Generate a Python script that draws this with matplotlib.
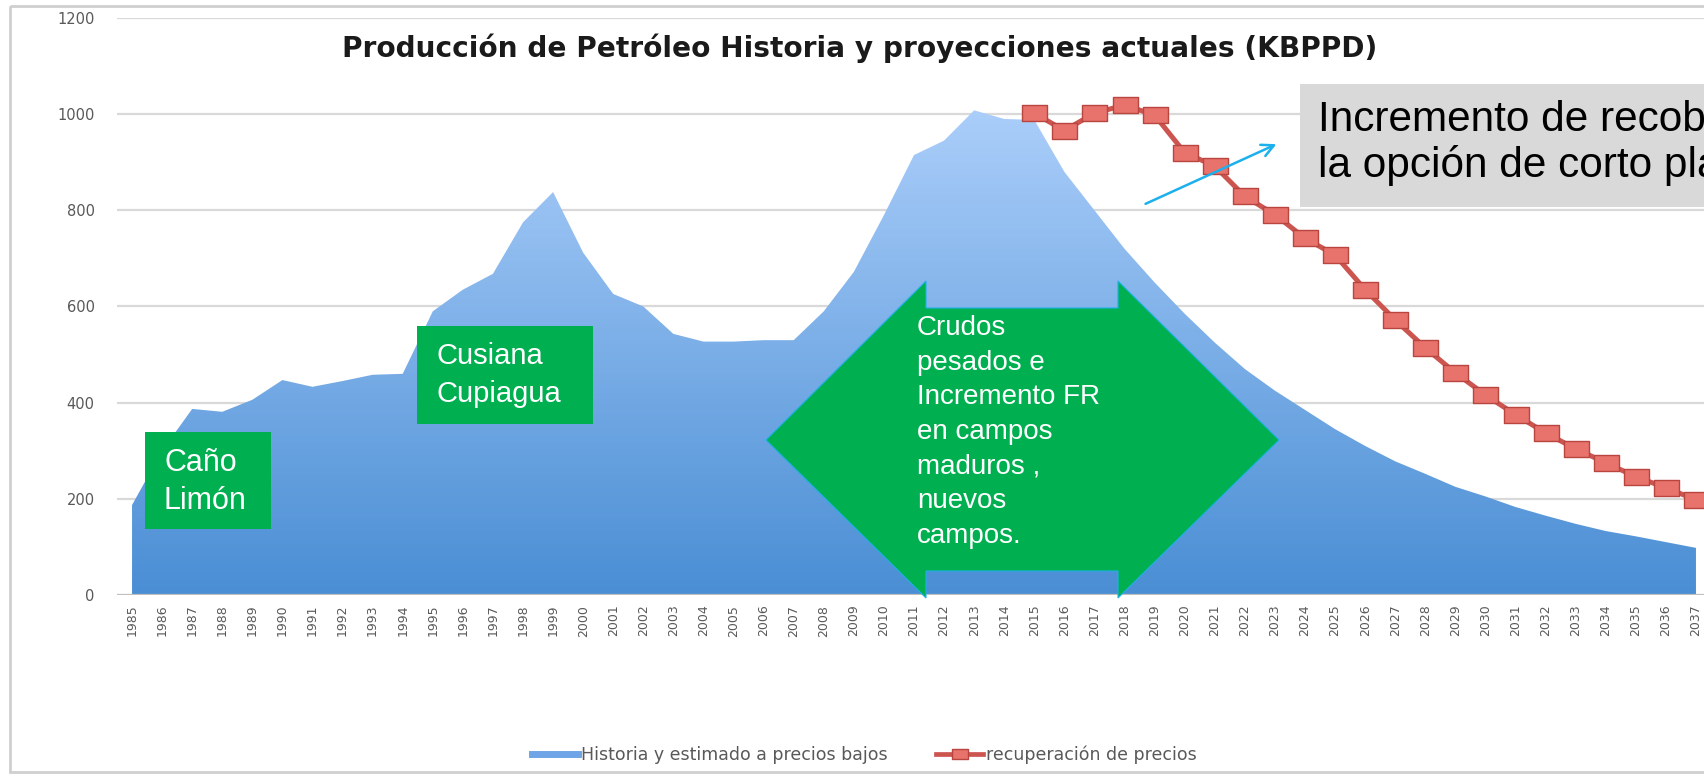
import numpy as np
import matplotlib
matplotlib.use("Agg")
import matplotlib.pyplot as plt
import matplotlib.transforms as mtransforms
from matplotlib.colors import LinearSegmentedColormap
from matplotlib.patches import Rectangle, Polygon, FancyArrowPatch
from matplotlib.lines import Line2D
from matplotlib.path import Path

# ---- data (KBPPD) ----
years = list(range(1985, 2038))
historia = [187, 300, 387, 381, 406, 447, 433, 445, 458, 460,
            590, 635, 668, 775, 838, 712, 626, 600, 543, 527,
            527, 530, 530, 590, 672, 790, 915, 945, 1008, 990,
            988, 880, 800, 720, 650, 585, 525, 470, 425, 385,
            345, 310, 278, 252, 225, 205, 183, 165, 148, 133,
            122, 110, 98]
years_rec = list(range(2015, 2038))
recuperacion = [1002, 966, 1002, 1019, 998, 920, 892, 829, 791, 742,
                707, 635, 572, 514, 462, 416, 375, 337, 304, 275,
                246, 223, 198]
y_ticks = [0, 200, 400, 600, 800, 1000, 1200]

title = "Producción de Petróleo Historia y proyecciones actuales (KBPPD)"
label_hist = "Historia y estimado a precios bajos"
label_rec = "recuperación de precios"

W, H = 1704, 776
fig = plt.figure(figsize=(W / 100, H / 100), dpi=100)
# pixel coordinates measured from the top-left corner
T = mtransforms.Affine2D().scale(1 / W, -1 / H).translate(0, 1) + fig.transFigure

# outer frame
fig.add_artist(Rectangle((10, 6), 1700, 766, transform=T, fill=False,
                         edgecolor="#cfcfcf", lw=2, zorder=0))

ax = fig.add_axes([117 / W, 1 - 595 / H, (1711 - 117) / W, (595 - 18) / H])
ax.set_facecolor("none")
for s in ax.spines.values():
    s.set_visible(False)

# gridlines
for v in y_ticks[1:]:
    ax.axhline(v, color="#d9d9d9", lw=1.6, zorder=0)
ax.axhline(0, color="#bfbfbf", lw=1.6, zorder=3)

# gradient-filled area
poly = ax.fill_between(years, historia, 0, facecolor="none", edgecolor="none")
cmap = LinearSegmentedColormap.from_list("blues", ["#4a8ed4", "#abcefa"])
grad = np.linspace(0, 1, 256).reshape(-1, 1)
im = ax.imshow(grad, extent=[1984.5, 2037.5, 0, 1012], origin="lower",
               aspect="auto", cmap=cmap, zorder=1, interpolation="bilinear")
im.set_clip_path(poly.get_paths()[0], transform=ax.transData)

# recovery scenario
rect_marker = Path([(-1, -0.62), (1, -0.62), (1, 0.62), (-1, 0.62), (-1, -0.62)],
                   [Path.MOVETO, Path.LINETO, Path.LINETO, Path.LINETO, Path.CLOSEPOLY])
ax.plot(years_rec, recuperacion, color="#cc5550", lw=3.6, marker=rect_marker,
        markersize=18, markerfacecolor="#e8736d", markeredgecolor="#b9453f",
        markeredgewidth=1, zorder=5)

ax.set_xlim(1984.5, 2037.5)
ax.set_ylim(0, 1200)
ax.set_yticks(y_ticks)
ax.set_yticklabels([str(v) for v in y_ticks])
ax.set_xticks(years)
ax.set_xticklabels([str(y) for y in years], rotation=90)
ax.tick_params(axis="y", length=0, pad=16, labelsize=10.5, labelcolor="#595959")
ax.tick_params(axis="x", length=0, pad=7, labelsize=9, labelcolor="#595959")

# title
fig.text(860, 48, title, transform=T, ha="center", va="center",
         fontsize=20.2, fontweight="bold", family="DejaVu Sans", color="#1a1a1a")

green = "#00b050"
lab = dict(transform=T, color="white", family="Liberation Sans")

# field labels
fig.add_artist(Rectangle((145, 432), 126, 97, transform=T, facecolor=green,
                         edgecolor="none", zorder=6))
fig.text(164, 482, "Caño\nLimón", ha="left", va="center", fontsize=22,
         linespacing=1.36, zorder=7, **lab)

fig.add_artist(Rectangle((417, 326), 176, 98, transform=T, facecolor=green,
                         edgecolor="none", zorder=6))
fig.text(437, 375, "Cusiana\nCupiagua", ha="left", va="center", fontsize=21,
         linespacing=1.48, zorder=7, **lab)

# double-headed arrow
arrow_pts = [(766, 440), (926, 281), (926, 308), (1118, 308), (1118, 281),
             (1279, 440), (1118, 598), (1118, 571), (926, 571), (926, 598)]
fig.add_artist(Polygon(arrow_pts, closed=True, transform=T, facecolor=green,
                       edgecolor="#1fb0e8", lw=0.8, zorder=6))
fig.text(917, 315, "Crudos\npesados e\nIncremento FR\nen campos\nmaduros ,\nnuevos\ncampos.",
         ha="left", va="top", fontsize=20, linespacing=1.43, zorder=7, **lab)

# callout
fig.add_artist(Rectangle((1300, 84), 500, 123, transform=T, facecolor="#d9d9d9",
                         edgecolor="none", zorder=6))
fig.text(1318, 143, "Incremento de recobro con\nla opción de corto plazo",
         transform=T, ha="left", va="center", fontsize=30.5, linespacing=1.15,
         family="Liberation Sans", color="black", zorder=7)
fig.add_artist(FancyArrowPatch((1143, 205), (1279, 143), transform=T,
                               arrowstyle="->", mutation_scale=22,
                               color="#1cb0ec", lw=1.8, zorder=7))

# legend
handles = [Line2D([], [], color="#6fa5e6", lw=5),
           Line2D([], [], color="#cc5550", lw=3.4, marker=rect_marker,
                  markersize=12, markerfacecolor="#e8736d",
                  markeredgecolor="#b9453f")]
fig.legend(handles, [label_hist, label_rec], loc="center",
           bbox_to_anchor=(864 / W, 1 - 755 / H), ncol=2, frameon=False,
           fontsize=12.5, handlelength=2.7, handletextpad=0.15, columnspacing=2.8,
           labelcolor="#595959")

fig.savefig("out.png", dpi=100)
